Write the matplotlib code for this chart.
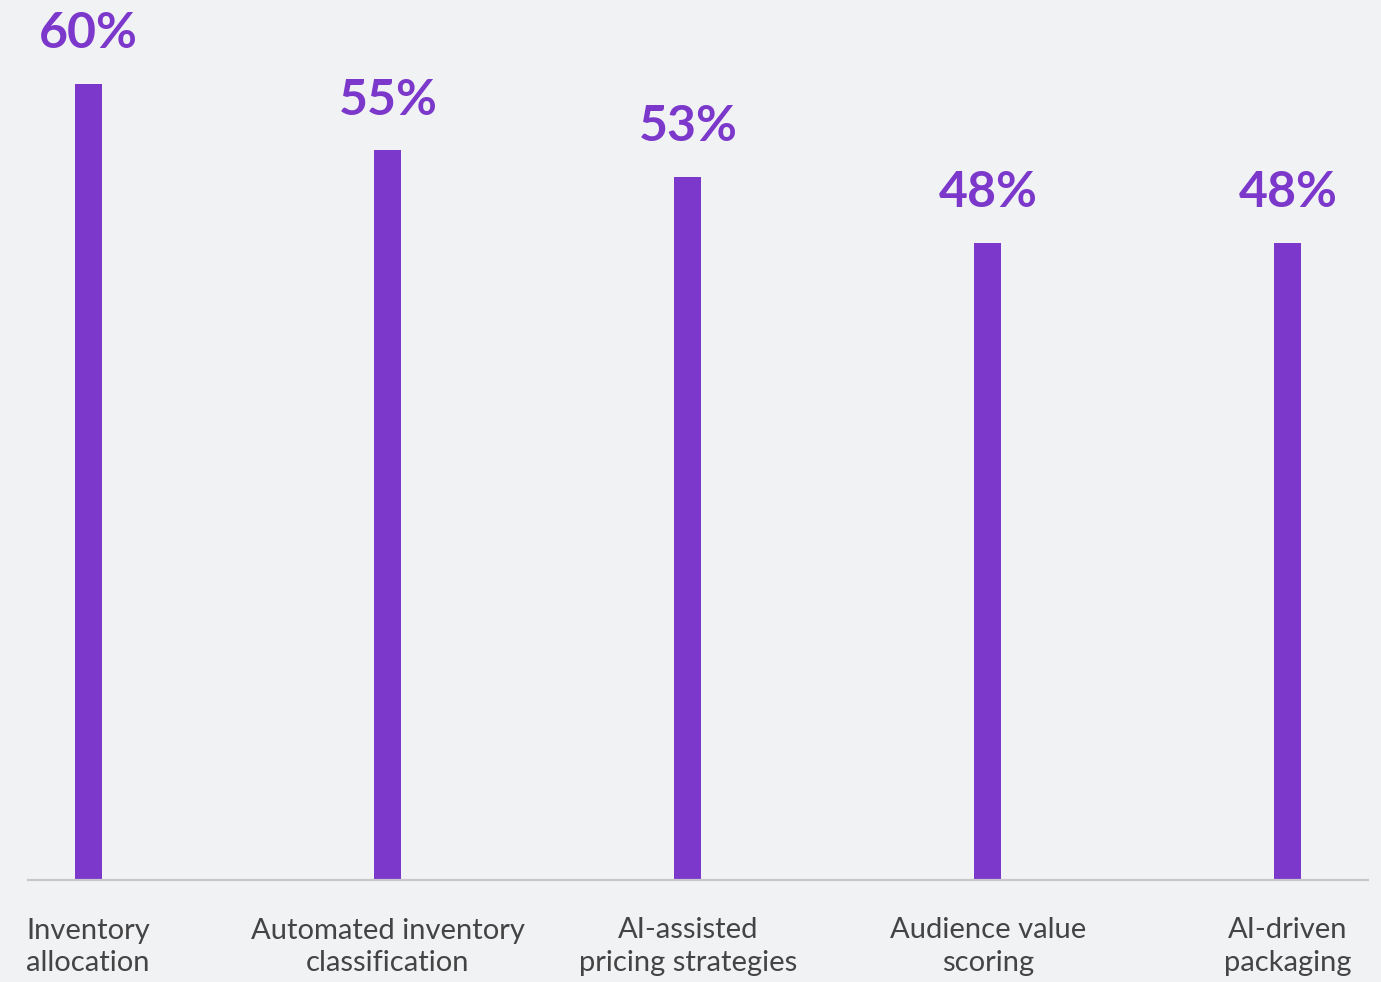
import matplotlib
matplotlib.use('Agg')
import matplotlib.pyplot as plt

# chart data
categories = ['Inventory\nallocation', 'Automated inventory\nclassification',
              'AI-assisted\npricing strategies', 'Audience value\nscoring',
              'AI-driven\npackaging']
values = [60, 55, 53, 48, 48]

bg = '#F1F2F4'
purple = '#7B38CB'

plt.rcParams['font.family'] = ['Lato', 'DejaVu Sans']

fig = plt.figure(figsize=(13.81, 9.82), dpi=100, facecolor=bg)
ax = fig.add_axes([28/1381, 102/982, 1340/1381, 880/982])
ax.set_facecolor(bg)

x = list(range(len(values)))
ax.bar(x, values, width=0.09, color=purple, zorder=2)

for xi, v in zip(x, values):
    ax.annotate('%d%%' % v, (xi, v), xytext=(0, 20), textcoords='offset points',
                ha='center', va='bottom', fontsize=36, fontweight='bold',
                color=purple)

ax.set_xlim(-0.2, (1368 - 88) / 300)
ax.set_ylim(0, 880 / (796 / 60))

ax.set_xticks(x)
ax.set_xticklabels(categories, fontsize=21, color='#444444', linespacing=1.3)
ax.tick_params(axis='x', length=0, pad=27)
ax.set_yticks([])

for s in ['top', 'right', 'left']:
    ax.spines[s].set_visible(False)
ax.spines['bottom'].set_color('#C8C8CC')
ax.spines['bottom'].set_linewidth(1.6)
ax.spines['bottom'].set_zorder(3)

fig.savefig('out.png', dpi=100, facecolor=bg)
